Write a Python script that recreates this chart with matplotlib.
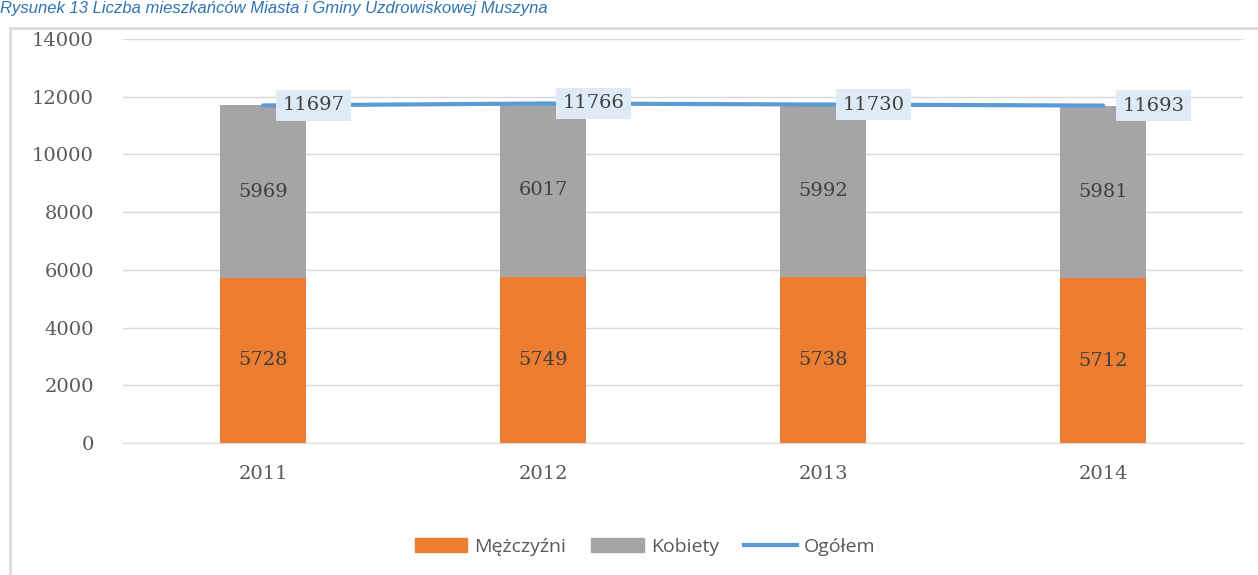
import matplotlib.pyplot as plt
from matplotlib.patches import Rectangle
from matplotlib.lines import Line2D
from matplotlib.patches import Patch

years = ["2011", "2012", "2013", "2014"]
men = [5728, 5749, 5738, 5712]
women = [5969, 6017, 5992, 5981]
total = [11697, 11766, 11730, 11693]

orange = "#ED7D31"
grey = "#A5A5A5"
blue = "#5B9BD5"
num_font = "DejaVu Serif"

fig = plt.figure(figsize=(12.58, 5.75), dpi=100)

# frame of the embedded chart
fig.patches.append(Rectangle((10 / 1258, -0.05), 1.2, 1 - 28 / 575 + 0.05,
                             transform=fig.transFigure, fill=False,
                             edgecolor="#D9D9D9", linewidth=2))
fig.text(0.0, 0.999, "Rysunek 13 Liczba mieszkańców Miasta i Gminy Uzdrowiskowej Muszyna",
         color="#2E74B5", style="italic", fontsize=12, ha="left", va="top",
         family="Liberation Sans")

ax = fig.add_axes([123 / 1258, 1 - 443 / 575, 1120 / 1258, 404 / 575])
x = list(range(len(years)))
w = 0.31
ax.bar(x, men, width=w, color=orange, zorder=2)
ax.bar(x, women, width=w, bottom=men, color=grey, zorder=2)
ax.plot(x, total, color=blue, linewidth=3, solid_capstyle="round", zorder=3)

for i in x:
    ax.text(i, men[i] / 2, str(men[i]), ha="center", va="center", fontsize=14,
            color="#404040", family=num_font, zorder=4)
    ax.text(i, men[i] + women[i] / 2, str(women[i]), ha="center", va="center",
            fontsize=14, color="#404040", family=num_font, zorder=4)
    ax.annotate(str(total[i]), (i, total[i]), xytext=(14, 0),
                textcoords="offset points", ha="left", va="center", fontsize=14,
                color="#404040", family=num_font, zorder=5,
                bbox=dict(boxstyle="square,pad=0.35", fc="#DEEBF7", ec="none"))

ax.set_xlim(-0.5, 3.5)
ax.set_ylim(0, 14000)
ax.set_yticks(range(0, 14001, 2000))
ax.set_xticks(x)
ax.set_xticklabels(years)
ax.grid(axis="y", color="#D9D9D9", linewidth=1, zorder=0)
ax.set_axisbelow(True)
for s in ["top", "right", "left"]:
    ax.spines[s].set_visible(False)
ax.spines["bottom"].set_color("#D9D9D9")
ax.tick_params(length=0, labelsize=14, labelcolor="#595959", pad=21)
ax.tick_params(axis="x", pad=16)
for lab in ax.get_xticklabels() + ax.get_yticklabels():
    lab.set_family(num_font)

handles = [Patch(color=orange), Patch(color=grey),
           Line2D([], [], color=blue, linewidth=3)]
fig.legend(handles, ["Mężczyźni", "Kobiety", "Ogółem"], loc="center",
           bbox_to_anchor=(645 / 1258, 1 - 547 / 575), ncol=3, frameon=False,
           prop={"family": "Open Sans", "size": 14}, labelcolor="#595959",
           handlelength=2.7, handleheight=0.75, columnspacing=1.3, handletextpad=0.35)

fig.savefig("out.png", dpi=100)
